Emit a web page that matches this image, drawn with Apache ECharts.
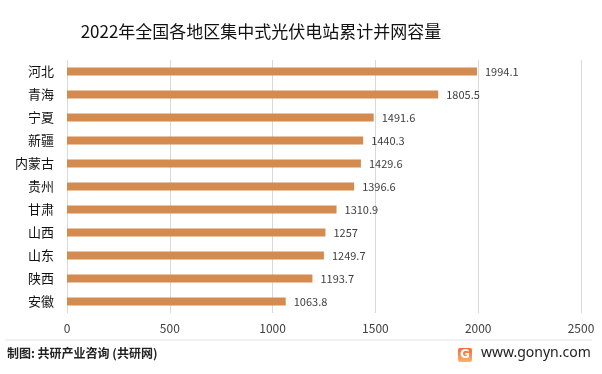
<!DOCTYPE html>
<html><head><meta charset="utf-8">
<script src="https://cdn.jsdelivr.net/npm/echarts@6/dist/echarts.min.js"></script>
<style>html,body{margin:0;padding:0;background:#fff}#c{width:602px;height:374px}</style>
</head><body><div id="c"></div>
<script>
const categories = ["河北","青海","宁夏","新疆","内蒙古","贵州","甘肃","山西","山东","陕西","安徽"];
const values = [1994.1,1805.5,1491.6,1440.3,1429.6,1396.6,1310.9,1257,1249.7,1193.7,1063.8];
const titleText = "2022年全国各地区集中式光伏电站累计并网容量";
const sourceText = "制图: 共研产业咨询 (共研网)";
const siteText = "www.gonyn.com";

const chart = echarts.init(document.getElementById('c'));
chart.setOption({
  backgroundColor:'#fff',
  animation:false,
  title:{text:titleText,left:256,top:18,textAlign:'center',
    textStyle:{fontFamily:'Noto Sans CJK SC',fontSize:17,fontWeight:'normal',color:'#111'}},
  grid:{left:67,right:21,top:60,bottom:61},
  xAxis:{type:'value',min:0,max:2500,interval:500,
    axisLine:{show:false},axisTick:{show:false},
    splitLine:{lineStyle:{color:'#d9d9d9',width:1}},
    axisLabel:{color:'#404040',fontSize:12,margin:9,fontFamily:'Noto Sans CJK SC',formatter:v=>String(v)}},
  yAxis:{type:'category',data:categories,inverse:true,
    axisLine:{show:false},axisTick:{show:false},
    axisLabel:{color:'#111',fontSize:13,margin:13,fontFamily:'Noto Sans CJK SC'}},
  series:[{type:'bar',data:values,barWidth:8,
    itemStyle:{color:'#D48B4F'},
    label:{show:true,position:'right',distance:8,color:'#404040',fontSize:11,fontFamily:'Noto Sans CJK SC'}}],
  graphic:[
    {type:'line',shape:{x1:5,y1:340,x2:592,y2:340},style:{stroke:'#e3e3e3',lineWidth:1}},
    {type:'text',left:7,top:347,style:{text:sourceText,fontSize:12,fontWeight:'bold',fill:'#222',fontFamily:'Noto Sans CJK SC'}},
    {type:'rect',shape:{x:458,y:348,width:14,height:14,r:2},style:{fill:new echarts.graphic.LinearGradient(0,0,0,1,[{offset:0,color:'#f26b3a'},{offset:1,color:'#fbb36a'}])}},
    {type:'text',x:465,y:355,style:{text:'G',fontSize:12,fontWeight:'bold',fill:'#fff',align:'center',verticalAlign:'middle',fontFamily:'DejaVu Sans'}},
    {type:'text',left:481,top:346,style:{text:siteText,fontSize:14,fill:'#222',fontFamily:'Noto Sans'}}
  ]
});
</script></body></html>
